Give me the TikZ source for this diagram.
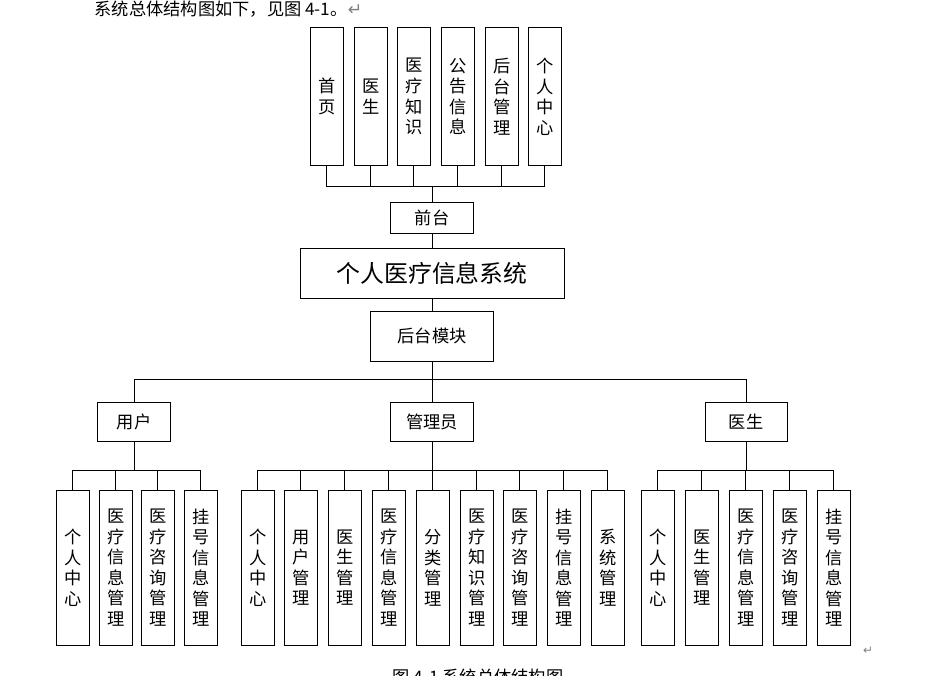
\documentclass[tikz,border=0pt]{standalone}
\usepackage{fontspec}
\setmainfont{Noto Sans CJK SC}
\newfontfamily\symfont{DejaVu Sans}
\tikzset{
  box/.style={draw, semithick, minimum width=0.87cm, align=center, inner sep=1pt, font=\fontsize{13}{15.5}\selectfont},
  vbox/.style={box, minimum height=4.1cm},
  hbox/.style={box, minimum height=1.03cm},
  wire/.style={semithick}
}
\begin{document}
\begin{tikzpicture}[x=0.0265cm, y=-0.0265cm]
  \useasboundingbox (0,0) rectangle (932,675);
  \node[anchor=west, font=\fontsize{13}{15}\selectfont] (intro) at (90,9) {系统总体结构图如下，见图\ 4-1。{\symfont\color{gray}↵}};
  % front end
  \foreach \x/\t [count=\i] in {310/{首\\页}, 354/{医\\生}, 397/{医\\疗\\知\\识}, 441/{公\\告\\信\\息}, 485/{后\\台\\管\\理}, 528/{个\\人\\中\\心}}
    \node[box, minimum height=3.67cm, anchor=north west] (top\i) at (\x,27) {\t};
  \coordinate (tbus) at (432,186);
  \node[hbox, minimum width=2.2cm, minimum height=0.82cm, anchor=north] (front) at (432,202) {前台};
  \node[box, minimum width=7cm, minimum height=1.32cm, font=\fontsize{18}{20}\selectfont, anchor=north] (sys) at (432,248) {个人医疗信息系统};
  \node[hbox, minimum width=3.28cm, minimum height=1.32cm, anchor=north] (back) at (432,311) {后台模块};
  \foreach \i in {1,...,6}
    \draw[wire] (top\i.south) |- (tbus);
  \draw[wire] (tbus) -- (front);
  \draw[wire] (front) -- (sys);
  \draw[wire] (sys) -- (back);
  % back end
  \node[hbox, minimum width=1.94cm, anchor=north] (user) at (134,402) {用户};
  \node[hbox, minimum width=2.2cm, anchor=north] (admin) at (432,402) {管理员};
  \node[hbox, minimum width=2.17cm, anchor=north] (doc) at (746,402) {医生};
  \coordinate (bbus) at (432,379);
  \draw[wire] (back) -- (bbus);
  \foreach \n in {user,admin,doc}
    \draw[wire] (\n.north) |- (bbus);
  \coordinate (ubus) at (134,470);
  \coordinate (abus) at (432,470);
  \coordinate (dbus) at (746,470);
  \draw[wire] (user) -- (ubus);
  \draw[wire] (admin) -- (abus);
  \draw[wire] (doc) -- (dbus);
  \foreach \x/\t [count=\i] in {56/{个\\人\\中\\心}, 99/{医\\疗\\信\\息\\管\\理}, 141/{医\\疗\\咨\\询\\管\\理}, 184/{挂\\号\\信\\息\\管\\理}}
  {
    \node[vbox, anchor=north west] (usr\i) at (\x,490) {\t};
    \draw[wire] (usr\i.north) |- (ubus);
  }
  \foreach \x/\t [count=\i] in {241/{个\\人\\中\\心}, 284/{用\\户\\管\\理}, 328/{医\\生\\管\\理}, 372/{医\\疗\\信\\息\\管\\理}, 416/{分\\类\\管\\理}, 460/{医\\疗\\知\\识\\管\\理}, 503/{医\\疗\\咨\\询\\管\\理}, 547/{挂\\号\\信\\息\\管\\理}, 591/{系\\统\\管\\理}}
  {
    \node[vbox, anchor=north west] (adm\i) at (\x,490) {\t};
    \draw[wire] (adm\i.north) |- (abus);
  }
  \foreach \x/\t [count=\i] in {641/{个\\人\\中\\心}, 685/{医\\生\\管\\理}, 729/{医\\疗\\信\\息\\管\\理}, 773/{医\\疗\\咨\\询\\管\\理}, 817/{挂\\号\\信\\息\\管\\理}}
  {
    \node[vbox, anchor=north west] (doc\i) at (\x,490) {\t};
    \draw[wire] (doc\i.north) |- (dbus);
  }
  \node[font=\symfont\small, text=gray] (ret) at (868,651) {↵};
  \node[font=\fontsize{13}{15}\selectfont, anchor=north] (cap) at (478,664) {图\ 4-1\ 系统总体结构图};
\end{tikzpicture}
\end{document}
